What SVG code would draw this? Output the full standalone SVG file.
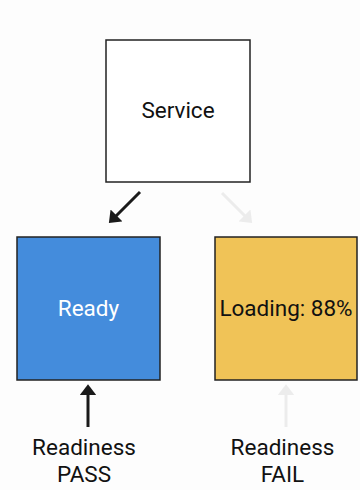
<svg xmlns="http://www.w3.org/2000/svg" width="360" height="490" viewBox="0 0 360 490">
  <style>
    .box { stroke: #222; stroke-width: 1.5; }
    .label { font-family: Roboto, "Liberation Sans", sans-serif; font-size: 22.5px; text-anchor: middle; fill: #111; }
    .on { stroke: #1a1a1a; stroke-width: 3; fill: none; }
    .off { stroke: #ececec; stroke-width: 3; fill: none; }
  </style>
  <defs>
    <marker id="headOn" viewBox="0 0 10 10" preserveAspectRatio="none" refX="2" refY="5" markerWidth="3.6" markerHeight="5.6" orient="auto" markerUnits="strokeWidth">
      <path d="M0,0 L10,5 L0,10 Z" fill="#1a1a1a"/>
    </marker>
    <marker id="headOff" viewBox="0 0 10 10" preserveAspectRatio="none" refX="2" refY="5" markerWidth="3.6" markerHeight="5.6" orient="auto" markerUnits="strokeWidth">
      <path d="M0,0 L10,5 L0,10 Z" fill="#ececec"/>
    </marker>
  </defs>
  <rect width="360" height="490" fill="#fdfdfd"/>

  <g id="service">
    <rect class="box" x="106" y="40" width="144" height="142" fill="#ffffff"/>
    <text class="label" x="178" y="118">Service</text>
  </g>

  <g id="ready">
    <rect class="box" x="17" y="237" width="143" height="143" fill="#448cdc"/>
    <text class="label" x="88.5" y="316" style="fill:#ffffff">Ready</text>
  </g>

  <g id="loading">
    <rect class="box" x="215" y="237" width="142" height="143" fill="#f0c357"/>
    <text class="label" x="286" y="316">Loading: 88%</text>
  </g>

  <g id="probe-pass">
    <text class="label" x="84" y="455">Readiness</text>
    <text class="label" x="84" y="482">PASS</text>
  </g>

  <g id="probe-fail">
    <text class="label" x="282.5" y="455">Readiness</text>
    <text class="label" x="282.5" y="482">FAIL</text>
  </g>

  <g id="connectors">
    <line class="on" x1="140" y1="192" x2="115" y2="217" marker-end="url(#headOn)"/>
    <line class="off" x1="222" y1="193" x2="246" y2="217" marker-end="url(#headOff)"/>
    <line class="on" x1="88" y1="427" x2="88" y2="393" marker-end="url(#headOn)"/>
    <line class="off" x1="286" y1="427" x2="286" y2="393" marker-end="url(#headOff)"/>
  </g>
</svg>
